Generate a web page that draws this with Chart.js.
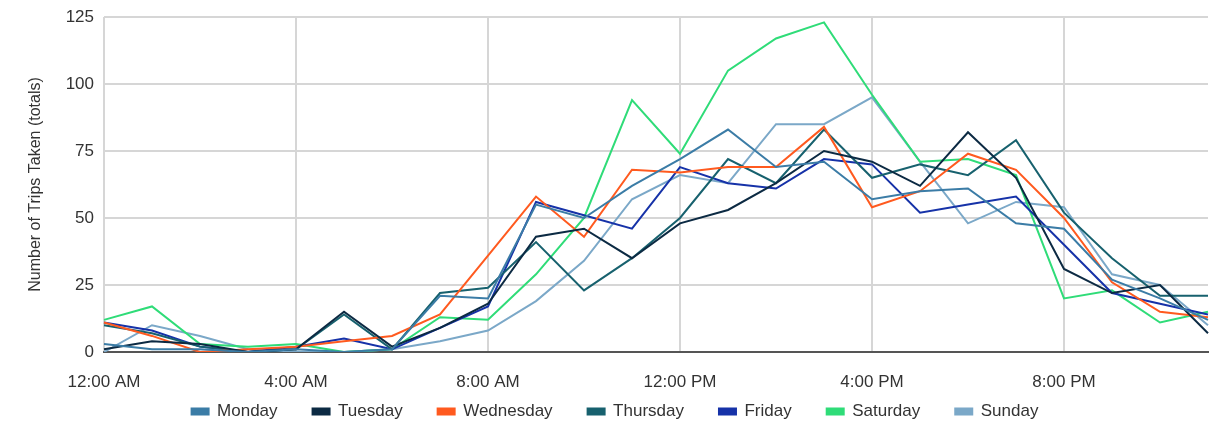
<!DOCTYPE html>
<html>
<head>
<meta charset="utf-8">
<script src="https://cdn.jsdelivr.net/npm/chart.js@4/dist/chart.umd.min.js"></script>
<style>
  html, body { margin: 0; padding: 0; background: #fff; }
  #wrap { width: 1214px; height: 425px; position: relative; }
</style>
</head>
<body>
<div id="wrap"><canvas id="tripsChart"></canvas></div>
<script>
// hourly trip totals, one array per weekday
const hourLabels = [
    "12:00 AM", "1:00 AM", "2:00 AM", "3:00 AM", "4:00 AM", "5:00 AM",
    "6:00 AM", "7:00 AM", "8:00 AM", "9:00 AM", "10:00 AM", "11:00 AM",
    "12:00 PM", "1:00 PM", "2:00 PM", "3:00 PM", "4:00 PM", "5:00 PM",
    "6:00 PM", "7:00 PM", "8:00 PM", "9:00 PM", "10:00 PM", "11:00 PM"
];
const monday    = [3, 1, 1, 0, 1, 0, 1, 21, 20, 55, 50, 62, 72, 83, 69, 71, 57, 60, 61, 48, 46, 27, 20, 12];
const tuesday   = [1, 4, 3, 0, 1, 15, 2, 9, 18, 43, 46, 35, 48, 53, 63, 75, 71, 62, 82, 65, 31, 22, 25, 7];
const wednesday = [11, 6, 0, 1, 2, 4, 6, 14, 36, 58, 43, 68, 67, 69, 69, 84, 54, 60, 74, 68, 50, 26, 15, 13];
const thursday  = [10, 7, 2, 0, 1, 14, 1, 22, 24, 41, 23, 35, 50, 72, 63, 83, 65, 70, 66, 79, 52, 35, 21, 21];
const friday    = [11, 8, 2, 0, 2, 5, 1, 9, 17, 56, 51, 46, 69, 63, 61, 72, 70, 52, 55, 58, 40, 22, 18, 14];
const saturday  = [12, 17, 3, 2, 3, 0, 1, 13, 12, 29, 50, 94, 74, 105, 117, 123, 96, 71, 72, 66, 20, 23, 11, 15];
const sunday    = [0, 10, 6, 1, 0, 0, 1, 4, 8, 19, 34, 57, 66, 63, 85, 85, 95, 71, 48, 56, 54, 29, 25, 10];

const dayNames = ["Monday", "Tuesday", "Wednesday", "Thursday", "Friday", "Saturday", "Sunday"];
const dayValues = [monday, tuesday, wednesday, thursday, friday, saturday, sunday];
const dayColors = ["#3b7ca6", "#0c2a43", "#ff5a1f", "#17616e", "#1632a8", "#2fdc78", "#7ba8c8"];

const font = { family: "'Liberation Sans', Arial, sans-serif", size: 17 };

// legend keeps wide gaps between items but sits in a short strip at the bottom
const legendStrip = {
    id: "legendStrip",
    beforeLayout(chart) {
        const lg = chart.legend;
        if (lg && !lg.stripPatched) {
            const origFit = lg.fit;
            lg.fit = function () { origFit.call(this); this.height = 33; };
            lg.stripPatched = true;
        }
    },
    afterLayout(chart) {
        const lg = chart.legend;
        if (lg) lg.top = lg.bottom - 57;
    }
};

new Chart(document.getElementById("tripsChart"), {
    type: "line",
    data: {
        labels: hourLabels,
        datasets: dayNames.map((name, i) => ({
            label: name,
            data: dayValues[i],
            borderColor: dayColors[i],
            backgroundColor: dayColors[i],
            borderWidth: 2,
            pointRadius: 0,
            tension: 0
        }))
    },
    plugins: [legendStrip],
    options: {
        responsive: true,
        maintainAspectRatio: false,
        animation: false,
        layout: { padding: { left: 22, right: 6, top: 17, bottom: 0 } },
        plugins: {
            legend: {
                position: "bottom",
                labels: {
                    boxWidth: 17,
                    boxHeight: 6,
                    padding: 35,
                    color: "#333",
                    font: font
                }
            },
            tooltip: { enabled: false }
        },
        scales: {
            x: {
                ticks: {
                    autoSkip: false,
                    maxRotation: 0,
                    padding: 20,
                    color: "#333",
                    font: font,
                    callback: function (v, i) {
                        return i % 4 === 0 ? this.getLabelForValue(v) : "";
                    }
                },
                grid: {
                    drawTicks: false,
                    lineWidth: 2,
                    color: ctx => ctx.index % 4 === 0 ? "#d6d6d6" : "rgba(0,0,0,0)"
                },
                border: { color: "#555", width: 2 },
                afterFit: s => {
                    s.height = 40;
                    s.paddingLeft = 0;
                    s.paddingRight = 0;
                }
            },
            y: {
                min: 0,
                max: 125,
                ticks: { stepSize: 25, padding: 10, color: "#333", font: font },
                grid: { drawTicks: false, lineWidth: 2, color: "#d6d6d6" },
                border: { display: false },
                title: {
                    display: true,
                    text: "Number of Trips Taken (totals)",
                    color: "#333",
                    font: { family: font.family, size: 16 }
                },
                afterFit: s => {
                    s.width = 82;
                    s.paddingTop = 0;
                    s.paddingBottom = 0;
                }
            }
        }
    }
});
</script>
</body>
</html>
